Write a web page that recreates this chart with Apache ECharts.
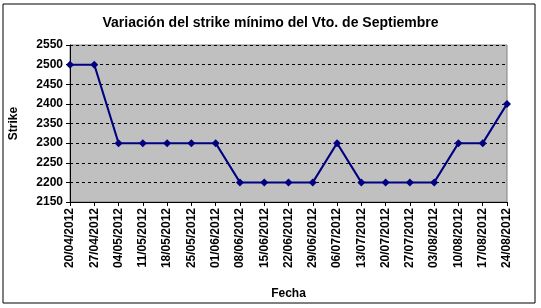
<!DOCTYPE html>
<html><head><meta charset="utf-8">
<script src="https://cdn.jsdelivr.net/npm/echarts@6/dist/echarts.min.js"></script>
<style>html,body{margin:0;padding:0;background:#fff}#c{width:541px;height:308px}</style>
</head><body><div id="c"></div>
<script>
const categories = ["20/04/2012","27/04/2012","04/05/2012","11/05/2012","18/05/2012","25/05/2012","01/06/2012","08/06/2012","15/06/2012","22/06/2012","29/06/2012","06/07/2012","13/07/2012","20/07/2012","27/07/2012","03/08/2012","10/08/2012","17/08/2012","24/08/2012"];
const strike = [2500,2500,2300,2300,2300,2300,2300,2200,2200,2200,2200,2300,2200,2200,2200,2200,2300,2300,2400];
const chart = echarts.init(document.getElementById('c'), null, {renderer:'canvas'});
const font = 'Liberation Sans, Arial, sans-serif';
chart.setOption({
  animation:false,
  backgroundColor:'#fff',
  graphic:[{type:'rect',shape:{x:3,y:4,width:532,height:299},style:{fill:'none',stroke:'#000',lineWidth:1},z:-1}],
  title:{text:'Variación del strike mínimo del Vto. de Septiembre',left:'center',top:11,
    textStyle:{fontFamily:font,fontSize:14,fontWeight:'bold',color:'#000'}},
  grid:{left:69,right:34,top:45,bottom:106,show:true,backgroundColor:'#C0C0C0',borderColor:'#808080',borderWidth:1},
  xAxis:{type:'category',data:categories,boundaryGap:false,
    name:'Fecha',nameLocation:'middle',nameGap:86,
    nameTextStyle:{fontFamily:font,fontSize:12,fontWeight:'bold',color:'#000'},
    axisLine:{lineStyle:{color:'#000'}},axisTick:{show:true,length:4,lineStyle:{color:'#000'}},
    axisLabel:{rotate:90,interval:0,fontFamily:font,fontSize:12,fontWeight:'bold',color:'#000',margin:6},
    splitLine:{show:false}},
  yAxis:{type:'value',min:2150,max:2550,interval:50,
    name:'Strike',nameLocation:'middle',nameGap:50,nameRotate:90,
    nameTextStyle:{fontFamily:font,fontSize:12,fontWeight:'bold',color:'#000'},
    axisLine:{show:true,lineStyle:{color:'#000'}},axisTick:{show:true,length:4,lineStyle:{color:'#000'}},
    axisLabel:{fontFamily:font,fontSize:12,fontWeight:'bold',color:'#000',margin:7,formatter:v=>String(v)},
    splitLine:{show:true,lineStyle:{color:'#000',type:[3,3],width:1}}},
  series:[{type:'line',data:strike,symbol:'diamond',symbolSize:8,
    lineStyle:{color:'#000080',width:2},itemStyle:{color:'#000080'}}]
});
</script></body></html>
